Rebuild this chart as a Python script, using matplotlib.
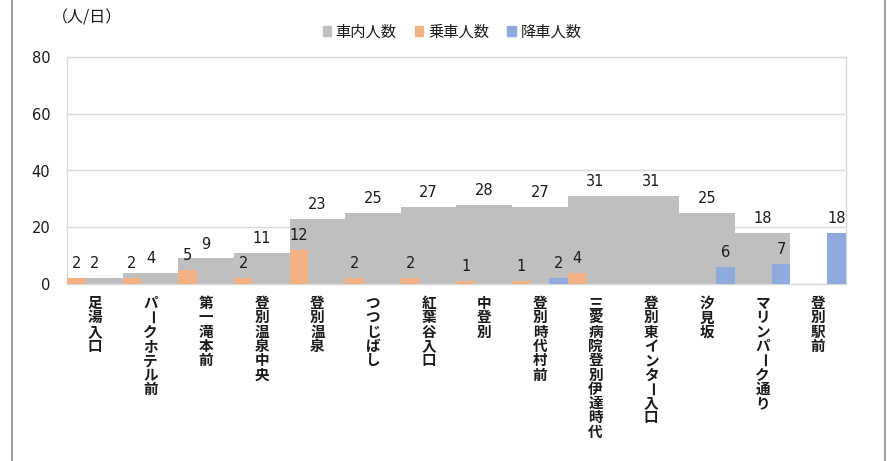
import matplotlib.pyplot as plt
from matplotlib.lines import Line2D
from matplotlib.patches import Patch

plt.rcParams['font.family'] = ['Noto Sans CJK JP', 'DejaVu Sans']

stops = ['足湯入口', 'パークホテル前', '第一滝本前', '登別温泉中央', '登別温泉', 'つつじばし',
         '紅葉谷入口', '中登別', '登別時代村前', '三愛病院登別伊達時代', '登別東インター入口',
         '汐見坂', 'マリンパーク通り', '登別駅前']
on_board = [2, 4, 9, 11, 23, 25, 27, 28, 27, 31, 31, 25, 18, 0]
boarding = [2, 2, 5, 2, 12, 2, 2, 1, 1, 4, 0, 0, 0, 0]
alighting = [0, 0, 0, 0, 0, 0, 0, 0, 2, 0, 0, 6, 7, 18]

c_gray = '#bfbfbf'
c_orange = '#f4b183'
c_blue = '#8faadc'
txt = '#1a1a1a'

fig = plt.figure(figsize=(8.93, 4.61), dpi=100)
ax = fig.add_axes([67 / 893, 1 - 284 / 461, (846 - 67) / 893, (284 - 57) / 461])

x = list(range(len(stops)))
ax.bar(x, on_board, width=1.0, color=c_gray, zorder=2)
ax.bar([i - 1 / 3 for i in x], boarding, width=1 / 3, color=c_orange, zorder=3)
ax.bar([i + 1 / 3 for i in x], alighting, width=1 / 3, color=c_blue, zorder=3)

# data labels (zeros are not shown)
for vals, off in [(on_board, 0), (boarding, -1 / 3), (alighting, 1 / 3)]:
    for i, v in enumerate(vals):
        if v:
            ax.annotate(str(v), xy=(i + off, v), xytext=(0, 5), textcoords='offset points',
                        ha='center', va='bottom', fontsize=10.5, color=txt,
                        family='DejaVu Sans', zorder=5)

ax.set_xlim(-0.5, len(stops) - 0.5)
ax.set_ylim(0, 80)
ax.set_yticks([0, 20, 40, 60, 80])
ax.yaxis.grid(True, color='#d9d9d9', linewidth=1, zorder=0)
ax.set_axisbelow(True)
ax.tick_params(axis='y', length=0, pad=12, labelsize=10.5, labelcolor=txt)
for lab in ax.get_yticklabels():
    lab.set_family('DejaVu Sans')
ax.set_xticks([])
for s in ax.spines.values():
    s.set_color('#d9d9d9')
    s.set_linewidth(1)

# vertical category labels, one character per line
for i, name in enumerate(stops):
    for k, ch in enumerate(name):
        ax.annotate(ch, xy=(i, 0), xycoords=('data', 'axes fraction'),
                    xytext=(0, -(13.7 + k * 10.3)), textcoords='offset points',
                    ha='center', va='center', fontsize=10.5, fontweight='bold',
                    color=txt, rotation=-90 if ch == 'ー' else 0,
                    rotation_mode='anchor', annotation_clip=False)

fig.text(52 / 893, 1 - 18 / 461, '（人/日）', fontsize=11.5, color=txt, va='center', ha='left')

handles = [Patch(color=c_gray), Patch(color=c_orange), Patch(color=c_blue)]
fig.legend(handles, ['車内人数', '乗車人数', '降車人数'], loc='center',
           bbox_to_anchor=(452 / 893, 1 - 32 / 461), ncol=3, frameon=False,
           fontsize=11, handlelength=0.55, handleheight=0.55, handletextpad=0.3,
           columnspacing=1.2, labelcolor=txt)

# outer chart border pieces
fig.add_artist(Line2D([12 / 893, 12 / 893], [0, 1], color='#8c8c8c', linewidth=1.2))
fig.add_artist(Line2D([885 / 893, 885 / 893], [0, 1], color='#8c8c8c', linewidth=1.2))

fig.savefig('out.png', dpi=100)
